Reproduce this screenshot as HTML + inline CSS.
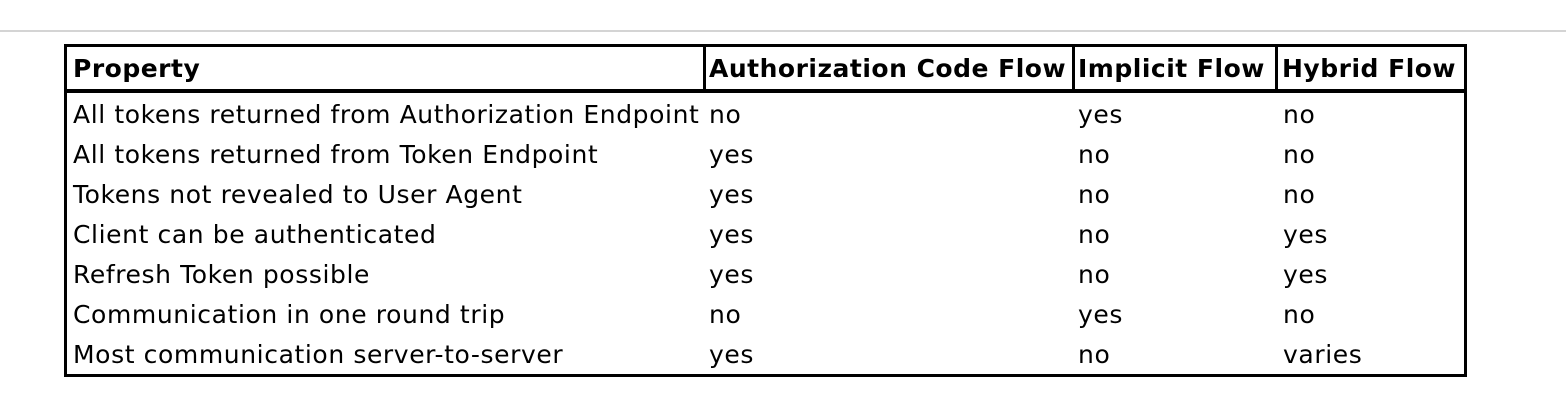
<!DOCTYPE html>
<html><head><style>
body{margin:0;width:1566px;height:416px;background:#fff;position:relative;overflow:hidden;font-family:"DejaVu Sans","Liberation Sans",sans-serif;color:#000}
.hr{position:absolute;left:0;top:30px;width:1566px;height:2px;background:#d4d4d4}
.box{position:absolute;left:64px;top:44px;width:1397px;height:327px;border:3px solid #000}
.hl{position:absolute;left:64px;top:89px;width:1403px;height:4px;background:#000}
.vl{position:absolute;top:44px;width:3px;height:47px;background:#000}
.t{position:absolute;font-size:25px;letter-spacing:0.6px;white-space:nowrap;line-height:26px}
.b{font-weight:bold;letter-spacing:0.5px}
</style></head><body>
<div class="hr"></div>
<div class="box"></div>
<div class="hl"></div>
<div class="vl" style="left:703px"></div>
<div class="vl" style="left:1072px"></div>
<div class="vl" style="left:1275px"></div>
<div class="t b" style="left:73px;top:56px">Property</div>
<div class="t b" style="left:709px;top:56px">Authorization Code Flow</div>
<div class="t b" style="left:1078px;top:56px">Implicit Flow</div>
<div class="t b" style="left:1282px;top:56px">Hybrid Flow</div>

<div class="t" style="left:73px;top:102px">All tokens returned from Authorization Endpoint</div>
<div class="t" style="left:709px;top:102px">no</div>
<div class="t" style="left:1078px;top:102px">yes</div>
<div class="t" style="left:1283px;top:102px">no</div>

<div class="t" style="left:73px;top:142px">All tokens returned from Token Endpoint</div>
<div class="t" style="left:709px;top:142px">yes</div>
<div class="t" style="left:1078px;top:142px">no</div>
<div class="t" style="left:1283px;top:142px">no</div>

<div class="t" style="left:73px;top:182px">Tokens not revealed to User Agent</div>
<div class="t" style="left:709px;top:182px">yes</div>
<div class="t" style="left:1078px;top:182px">no</div>
<div class="t" style="left:1283px;top:182px">no</div>

<div class="t" style="left:73px;top:222px">Client can be authenticated</div>
<div class="t" style="left:709px;top:222px">yes</div>
<div class="t" style="left:1078px;top:222px">no</div>
<div class="t" style="left:1283px;top:222px">yes</div>

<div class="t" style="left:73px;top:262px">Refresh Token possible</div>
<div class="t" style="left:709px;top:262px">yes</div>
<div class="t" style="left:1078px;top:262px">no</div>
<div class="t" style="left:1283px;top:262px">yes</div>

<div class="t" style="left:73px;top:302px">Communication in one round trip</div>
<div class="t" style="left:709px;top:302px">no</div>
<div class="t" style="left:1078px;top:302px">yes</div>
<div class="t" style="left:1283px;top:302px">no</div>

<div class="t" style="left:73px;top:342px">Most communication server-to-server</div>
<div class="t" style="left:709px;top:342px">yes</div>
<div class="t" style="left:1078px;top:342px">no</div>
<div class="t" style="left:1283px;top:342px">varies</div>
</body></html>
